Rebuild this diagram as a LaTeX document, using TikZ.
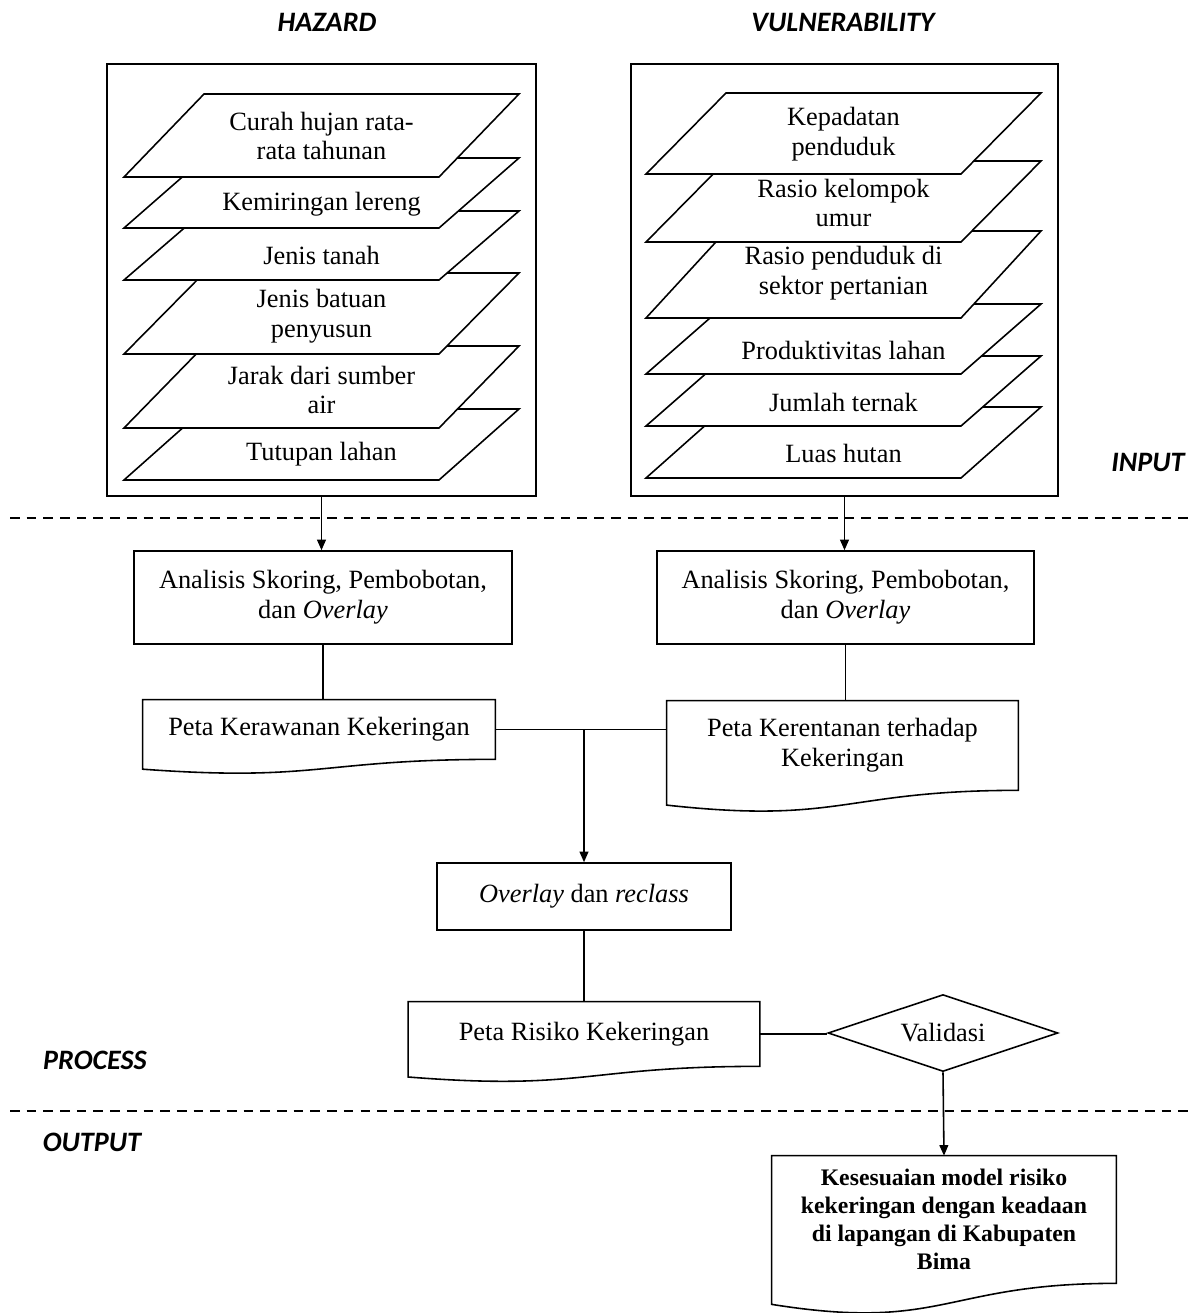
\documentclass[tikz,border=0pt]{standalone}
\usepackage{fontspec}
\setmainfont{Liberation Serif}
\newfontfamily\lblfont{Carlito}
\usetikzlibrary{arrows.meta,calc,shapes.geometric}
\tikzset{
	txt/.style={font=\fontsize{15}{17}\selectfont,align=center,inner sep=0pt},
	bigbox/.style={draw,line width=0.9pt,minimum width=#1,minimum height=8.64cm},
	lapis/.style={draw,fill=white,line width=0.9pt},
	kotak/.style={txt,draw,line width=0.9pt,minimum width=#1},
	dok/.style={txt,minimum width=#1},
	judul/.style={font=\lblfont\bfseries\itshape\fontsize{16}{18}\selectfont,inner sep=0pt},
	panah/.style={line width=0.9pt,-{Triangle[length=6pt,width=5pt]}},
	garis/.style={line width=0.9pt},
	batas/.style={line width=1.1pt,dash pattern=on 5.5pt off 4pt},
}
\newcommand\dokpath[1]{\draw[garis] (#1.north west) -- (#1.north east) -- (#1.south east)
	.. controls (#1.south) and ($(#1.north)!1.381!(#1.south)$) .. ($(#1.north west)!1.1646!(#1.south west)$) -- cycle;}
\begin{document}
\begin{tikzpicture}[x=0.02cm,y=-0.02cm]
	\useasboundingbox (0,0) rectangle (1198,1313);
	\node[judul] (hazard) at (327,22) {HAZARD};
	\node[judul] (vulner) at (843,22) {VULNERABILITY};
	\node[judul] (input) at (1148,462) {INPUT};
	\node[judul] (process) at (95,1060) {PROCESS};
	\node[judul] (output) at (92,1142) {OUTPUT};
	\node[bigbox=8.58cm] (hazbox) at (321.5,280) {};
	\node[bigbox=8.54cm] (vulbox) at (844.5,280) {};
	\foreach \t/\b/\m/\teks [count=\i] in {409/480/454/Tutupan lahan,
		346/428/390/{Jarak dari sumber\\air},273/354/316/{Jenis batuan\\penyusun},
		211/280/255/Jenis tanah,158/228/204/Kemiringan lereng,
		94/177/136/{Curah hujan rata-\\rata tahunan}}
		\draw[lapis] (124,\b) -- (439,\b) -- (519,\t) -- (204,\t) -- cycle
		(321.5,\m) node[txt] (haz\i) {\teks};
	\foreach \t/\b/\m/\teks [count=\i] in {407/478/453/Luas hutan,
		356/426/402/Jumlah ternak,304/374/350/Produktivitas lahan,
		231/318/273/{Rasio penduduk di\\sektor pertanian},
		161/242/203/{Rasio kelompok\\umur},93/174/134/{Kepadatan\\penduduk}}
		\draw[lapis] (646,\b) -- (961,\b) -- (1041,\t) -- (726,\t) -- cycle
		(843.5,\m) node[txt] (vul\i) {\teks};
	\draw[batas] (10,518) -- (1190,518) (10,1111) -- (1190,1111);
	\node[kotak=7.56cm,minimum height=1.86cm] (anlhaz) at (323,597.5) {Analisis Skoring, Pembobotan,\\dan \textit{Overlay}};
	\node[kotak=7.54cm,minimum height=1.86cm] (anlvul) at (845.5,597.5) {Analisis Skoring, Pembobotan,\\dan \textit{Overlay}};
	\node[dok=7.04cm,minimum height=1.18cm] (rawan) at (319,729.5) {Peta Kerawanan Kekeringan};
	\node[dok=7.02cm,minimum height=1.78cm] (rentan) at (842.5,745.5) {Peta Kerentanan terhadap\\Kekeringan};
	\node[kotak=5.88cm,minimum height=1.34cm] (ovl) at (584,896.5) {\textit{Overlay} dan \textit{reclass}};
	\node[dok=7.02cm,minimum height=1.28cm] (risiko) at (584,1034) {Peta Risiko Kekeringan};
	\node[diamond,draw,line width=0.9pt,txt,shape aspect=3,minimum width=4.6cm,minimum height=1.54cm] (valid) at (943,1033) {Validasi};
	\node[dok=6.88cm,minimum height=2.54cm,font=\bfseries\fontsize{13.5}{16}\selectfont] (hasil) at (944,1219.5) {Kesesuaian model risiko\\kekeringan dengan keadaan\\di lapangan di Kabupaten\\Bima};
	\draw[panah] (hazbox.south) -- (hazbox.south |- anlhaz.north);
	\draw[panah] (vulbox.south) -- (vulbox.south |- anlvul.north);
	\draw[garis] (anlhaz.south) -- (anlhaz.south |- rawan.north);
	\draw[garis] (anlvul.south) -- (anlvul.south |- rentan.north);
	\draw[garis] (rawan.east) -- (rawan.east -| rentan.west);
	\coordinate (simpang) at (rawan.east -| ovl.north);
	\draw[panah] (simpang) -- (ovl.north);
	\draw[garis] (ovl.south) -- (risiko.north);
	\draw[garis] (risiko.east) -- (risiko.east -| valid.west);
	\draw[panah] (valid.south) -- (hasil.north);
	\foreach \d in {rawan,rentan,risiko,hasil}
		\dokpath{\d};
\end{tikzpicture}
\end{document}
